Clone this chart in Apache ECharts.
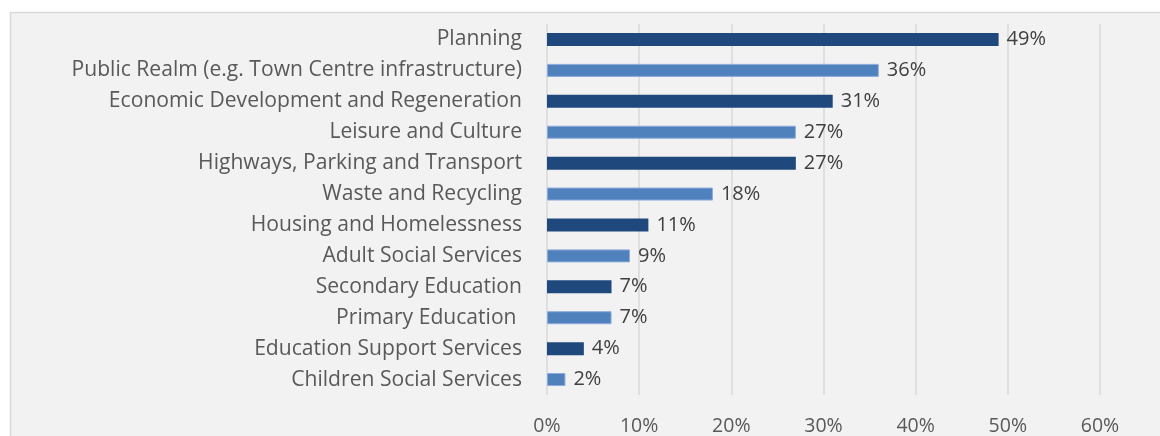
<!DOCTYPE html>
<html>
<head>
<meta charset="utf-8">
<script src="https://cdn.jsdelivr.net/npm/echarts@6/dist/echarts.min.js"></script>
<style>
  html, body { margin: 0; padding: 0; background: #ffffff; }
  #chart { width: 1160px; height: 436px; }
</style>
</head>
<body>
<div id="chart"></div>
<script>
// Services, top to bottom
const categories = [
  'Planning',
  'Public Realm (e.g. Town Centre infrastructure)',
  'Economic Development and Regeneration',
  'Leisure and Culture',
  'Highways, Parking and Transport',
  'Waste and Recycling',
  'Housing and Homelessness',
  'Adult Social Services',
  'Secondary Education',
  'Primary Education ',
  'Education Support Services',
  'Children Social Services'
];
// Share of responses, percent
const values = [49, 36, 31, 27, 27, 18, 11, 9, 7, 7, 4, 2];
const tickValues = [0, 10, 20, 30, 40, 50, 60];

const darkBlue = '#1f497d';
const lightBlue = '#4f81bd';
const font = '"Open Sans", "Liberation Sans", sans-serif';

const chart = echarts.init(document.getElementById('chart'), null, { renderer: 'canvas' });

chart.setOption({
  backgroundColor: '#ffffff',
  animation: false,
  graphic: [{
    type: 'rect',
    z: -10,
    shape: { x: 10.5, y: 12.5, width: 1170, height: 440 },
    style: { fill: '#f2f2f2', stroke: '#d9d9d9', lineWidth: 1.5 }
  }],
  grid: { left: 547, right: 60, top: 24, bottom: 41, containLabel: false },
  xAxis: {
    type: 'value',
    min: tickValues[0],
    max: tickValues[tickValues.length - 1],
    interval: 10,
    axisLine: { show: false },
    axisTick: { show: false },
    splitLine: { show: true, lineStyle: { color: '#d9d9d9', width: 1.5 } },
    axisLabel: {
      formatter: v => v + '%',
      color: '#595959',
      fontFamily: font,
      fontSize: 19.5,
      margin: 21
    }
  },
  yAxis: {
    type: 'category',
    data: categories,
    inverse: true,
    axisLine: { show: false },
    axisTick: { show: false },
    splitLine: { show: false },
    axisLabel: {
      color: '#595959',
      fontFamily: font,
      fontSize: 21.1,
      margin: 25
    }
  },
  series: [{
    type: 'bar',
    data: values.map((v, i) => ({
      value: v,
      itemStyle: i % 2 === 0
        ? { color: darkBlue }
        : { color: lightBlue, borderColor: '#8eaadb', borderWidth: 1 }
    })),
    barWidth: 13,
    label: {
      show: true,
      position: 'right',
      distance: 8,
      formatter: p => p.value + '%',
      color: '#404040',
      fontFamily: font,
      fontSize: 20
    }
  }]
});
</script>
</body>
</html>
